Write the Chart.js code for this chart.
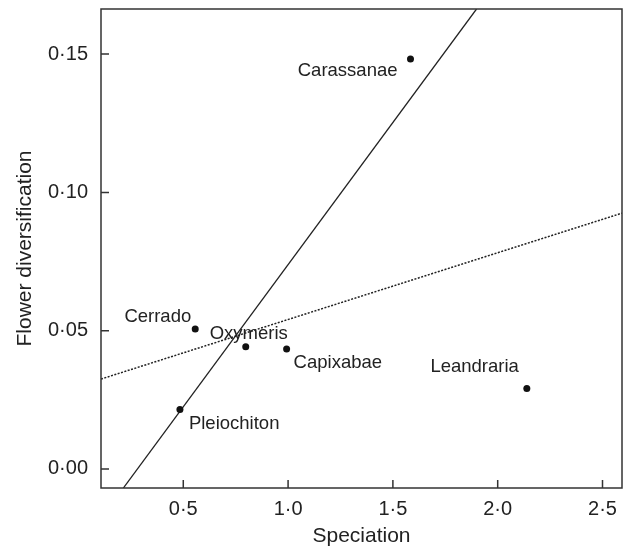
<!DOCTYPE html>
<html>
<head>
<meta charset="utf-8">
<script src="https://cdn.jsdelivr.net/npm/chart.js@4.4.1/dist/chart.umd.min.js"></script>
<style>
  html, body { margin: 0; padding: 0; background: #fff; }
  #wrap { width: 631px; height: 549px; position: relative; }
</style>
</head>
<body>
<div id="wrap"><canvas id="c"></canvas></div>
<script>
// ---- data ----
const taxa = ['Carassanae', 'Cerrado', 'Oxymeris', 'Capixabae', 'Pleiochiton', 'Leandraria'];
const speciation = [1.584, 0.557, 0.798, 0.993, 0.484, 2.139];
const flowerDiv = [0.1482, 0.0506, 0.0442, 0.0434, 0.0215, 0.0291];
// regression line endpoints
const solidLineX = [0.214, 1.899];
const solidLineY = [-0.0069, 0.1663];
const dottedLineX = [0.1075, 2.593];
const dottedLineY = [0.0325, 0.0925];
const xTicks = [0.5, 1.0, 1.5, 2.0, 2.5];
const yTicks = [0.00, 0.05, 0.10, 0.15];
const xTitle = 'Speciation';
const yTitle = 'Flower diversification';

const INK = '#222';
const FONT = "'Liberation Sans', Arial, Helvetica, sans-serif";

const pts = taxa.map((t, i) => ({ x: speciation[i], y: flowerDiv[i] }));
const solid = solidLineX.map((x, i) => ({ x, y: solidLineY[i] }));
const dotted = dottedLineX.map((x, i) => ({ x, y: dottedLineY[i] }));

// label placement (style, not data): [dx, dy, align]
const labelPlacement = {
  Carassanae: [-13, 12, 'right'],
  Cerrado: [-4, -12, 'right'],
  Oxymeris: [3, -13, 'center'],
  Capixabae: [7, 14, 'left'],
  Pleiochiton: [9, 14, 'left'],
  Leandraria: [-8, -22, 'right']
};

const framePlugin = {
  id: 'frameAndTicks',
  afterDraw(chart) {
    const { ctx, chartArea: a, scales } = chart;
    ctx.save();
    ctx.strokeStyle = '#333';
    ctx.lineWidth = 1.5;
    ctx.strokeRect(a.left, a.top, a.right - a.left, a.bottom - a.top);
    ctx.beginPath();
    scales.x.ticks.forEach(t => {
      const px = scales.x.getPixelForValue(t.value);
      ctx.moveTo(px, a.bottom);
      ctx.lineTo(px, a.bottom - 8);
    });
    scales.y.ticks.forEach(t => {
      const py = scales.y.getPixelForValue(t.value);
      ctx.moveTo(a.left, py);
      ctx.lineTo(a.left + 8, py);
    });
    ctx.stroke();
    ctx.restore();
  }
};

const labelPlugin = {
  id: 'pointLabels',
  afterDatasetsDraw(chart) {
    const { ctx } = chart;
    const meta = chart.getDatasetMeta(0);
    ctx.save();
    ctx.fillStyle = INK;
    ctx.font = "18.5px " + FONT;
    ctx.textBaseline = 'middle';
    meta.data.forEach((el, i) => {
      const name = taxa[i];
      const p = labelPlacement[name];
      ctx.textAlign = p[2];
      ctx.fillText(name, el.x + p[0], el.y + p[1]);
    });
    ctx.restore();
  }
};

const fmt = (d) => (v) => Number(v).toFixed(d).replace('.', '\u00B7');

new Chart(document.getElementById('c'), {
  type: 'scatter',
  data: {
    datasets: [
      {
        label: 'taxa',
        data: pts,
        pointRadius: 3.5,
        pointBackgroundColor: '#111',
        pointBorderColor: '#111',
        pointBorderWidth: 0,
        showLine: false
      },
      {
        label: 'solid',
        type: 'line',
        data: solid,
        borderColor: '#222',
        borderWidth: 1.3,
        pointRadius: 0,
        fill: false
      },
      {
        label: 'dotted',
        type: 'line',
        data: dotted,
        borderColor: '#222',
        borderWidth: 1.5,
        borderDash: [2, 1.5],
        pointRadius: 0,
        fill: false
      }
    ]
  },
  options: {
    responsive: true,
    maintainAspectRatio: false,
    animation: false,
    layout: { padding: { top: 9, right: 9, left: 0, bottom: 0 } },
    plugins: {
      legend: { display: false },
      tooltip: { enabled: false }
    },
    scales: {
      x: {
        type: 'linear',
        min: 0.1075,
        max: 2.593,
        afterBuildTicks: (s) => { s.ticks = xTicks.map(v => ({ value: v })); },
        afterFit: (s) => { s.height = 61; s.paddingLeft = 0; s.paddingRight = 0; },
        grid: { display: false, drawTicks: false },
        border: { display: false },
        ticks: {
          color: INK,
          font: { family: FONT, size: 20 },
          padding: 9,
          maxRotation: 0,
          callback: fmt(1)
        },
        title: {
          display: true,
          text: xTitle,
          color: INK,
          font: { family: FONT, size: 21 },
          padding: { top: 0, bottom: 0 }
        }
      },
      y: {
        type: 'linear',
        min: -0.00688,
        max: 0.1663,
        afterBuildTicks: (s) => { s.ticks = yTicks.map(v => ({ value: v })); },
        afterFit: (s) => { s.width = 101; s.paddingTop = 0; s.paddingBottom = 0; },
        grid: { display: false, drawTicks: false },
        border: { display: false },
        ticks: {
          color: INK,
          font: { family: FONT, size: 20 },
          padding: 13,
          callback: fmt(2)
        },
        title: {
          display: true,
          text: yTitle,
          color: INK,
          font: { family: FONT, size: 21 },
          padding: { top: 13, bottom: 0 }
        }
      }
    }
  },
  plugins: [framePlugin, labelPlugin]
});
</script>
</body>
</html>
